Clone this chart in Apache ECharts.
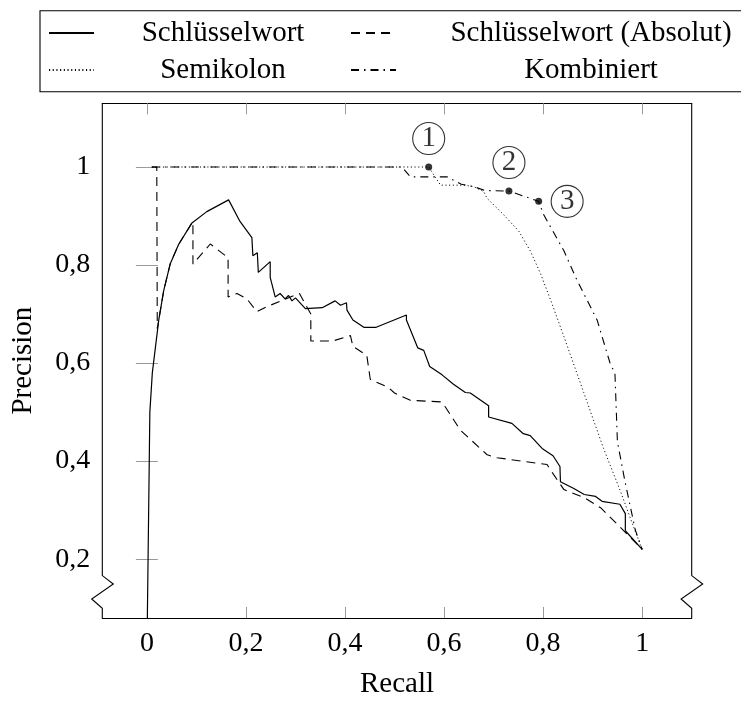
<!DOCTYPE html>
<html><head><meta charset="utf-8">
<script src="https://cdn.jsdelivr.net/npm/echarts@6/dist/echarts.min.js"></script>
<style>html,body{margin:0;padding:0;background:#fff}#c{width:741px;height:704px}</style>
</head><body><div id="c"></div>
<script>
// ---- data ----
const xTicks = [0, 0.2, 0.4, 0.6, 0.8, 1];
const yTicks = [0.2, 0.4, 0.6, 0.8, 1];

const kwRecall = [0,0.006,0.011,0.017,0.024,0.034,0.047,0.064,0.091,0.121,0.165,0.188,0.212,0.214,0.223,0.225,0.249,0.249,0.259,0.269,0.279,0.286,0.293,0.300,0.320,0.354,0.380,0.391,0.403,0.404,0.416,0.438,0.463,0.524,0.524,0.547,0.559,0.571,0.596,0.619,0.643,0.653,0.690,0.690,0.737,0.760,0.774,0.798,0.820,0.834,0.835,0.862,0.883,0.906,0.919,0.955,0.966,0.966,1];
const kwPrecision = [0,0.5,0.58,0.63,0.688,0.748,0.802,0.842,0.886,0.909,0.933,0.889,0.856,0.819,0.825,0.785,0.807,0.775,0.735,0.742,0.731,0.738,0.727,0.733,0.711,0.713,0.727,0.718,0.723,0.708,0.688,0.673,0.673,0.698,0.688,0.631,0.626,0.593,0.576,0.557,0.540,0.539,0.513,0.490,0.477,0.456,0.452,0.426,0.411,0.389,0.358,0.344,0.332,0.328,0.318,0.312,0.293,0.258,0.22];

const absRecall = [0.01,0.02,0.021,0.024,0.034,0.047,0.064,0.093,0.093,0.128,0.164,0.164,0.182,0.202,0.222,0.242,0.273,0.308,0.331,0.331,0.375,0.411,0.416,0.444,0.451,0.488,0.500,0.532,0.593,0.603,0.633,0.687,0.707,0.808,0.821,0.842,0.882,0.916,0.949,1];
const absPrecision = [1,1,0.67,0.688,0.748,0.802,0.842,0.889,0.802,0.843,0.815,0.735,0.742,0.731,0.705,0.715,0.728,0.742,0.700,0.645,0.645,0.656,0.634,0.616,0.567,0.550,0.539,0.524,0.521,0.510,0.463,0.413,0.407,0.393,0.373,0.342,0.326,0.305,0.272,0.22];

const semiRecall = [0.01,0.569,0.593,0.64,0.66,0.68,0.687,0.72,0.751,0.774,0.795,0.818,0.842,0.882,0.922,0.956,0.983,1];
const semiPrecision = [1,1,0.963,0.963,0.96,0.95,0.936,0.903,0.869,0.829,0.782,0.721,0.654,0.540,0.426,0.339,0.265,0.22];

const kombRecall = [0.01,0.515,0.532,0.606,0.635,0.66,0.683,0.731,0.791,0.801,0.842,0.868,0.909,0.936,0.945,0.95,0.965,0.986,1];
const kombPrecision = [1,1,0.98,0.98,0.965,0.96,0.952,0.951,0.93,0.903,0.829,0.77,0.688,0.597,0.58,0.44,0.36,0.26,0.22];

const markRecall = [0.569, 0.731, 0.791];
const markPrecision = [1, 0.951, 0.93];
const markLabels = ['1', '2', '3'];

const seriesNames = ['Schlüsselwort', 'Schlüsselwort (Absolut)', 'Semikolon', 'Kombiniert'];

// ---- styles ----
const FONT = "'Liberation Serif', 'Times New Roman', serif";
const markLabelPlacement = ['top', 'top', 'right'];
const zip = (a, b) => a.map((v, i) => [v, b[i]]);
const fmt = v => String(v).replace('.', ',');

const chart = echarts.init(document.getElementById('c'), null, {renderer: 'canvas'});

function lineSeries(name, xs, ys, dash, width) {
  return {
    type: 'line', name: name, data: zip(xs, ys), symbol: 'none', showSymbol: false,
    lineStyle: {color: '#000', width: width || 1.1, type: dash},
    itemStyle: {color: '#000'}, clip: true, z: 3, silent: true
  };
}

// legend text placement
const mctx = document.createElement('canvas').getContext('2d');
mctx.font = "29px 'Liberation Serif'";
function legendComp(name, iconLeft, textCenter, rowTop) {
  const w = mctx.measureText(name).width;
  const itemWidth = 45;
  const pad = Math.max(0, textCenter - w / 2 - (iconLeft + itemWidth + 5));
  return {
    data: [name], left: iconLeft, top: rowTop, padding: 0, orient: 'horizontal',
    itemWidth: itemWidth, itemHeight: 14, selectedMode: false,
    itemStyle: {opacity: 0},
    textStyle: {fontFamily: FONT, fontSize: 29, color: '#000', lineHeight: 32, padding: [0, 0, 0, pad]}
  };
}

const axisCommon = {
  type: 'value', splitLine: {show: false},
  axisTick: {inside: true, length: 11, lineStyle: {color: '#999', width: 1}},
};

chart.setOption({
  animation: false,
  backgroundColor: '#fff',
  grid: {left: 102.3, top: 103.3, width: 589.4, height: 522.4, containLabel: false},
  legend: [
    legendComp(seriesNames[0], 48, 222, 17),
    legendComp(seriesNames[1], 350, 590, 17),
    legendComp(seriesNames[2], 48, 222, 54),
    legendComp(seriesNames[3], 350, 590, 54)
  ],
  xAxis: [
    Object.assign({}, axisCommon, {
      min: -0.09, max: 1.1, position: 'bottom',
      axisLine: {show: true, lineStyle: {color: '#000', width: 1.1}},
      axisTick: {inside: true, length: 11, customValues: xTicks, lineStyle: {color: '#999'}},
      axisLabel: {customValues: xTicks, formatter: fmt, fontSize: 28, fontFamily: FONT, color: '#000', margin: 12},
      name: 'Recall', nameLocation: 'middle', nameGap: 52,
      nameTextStyle: {fontSize: 29, fontFamily: FONT, color: '#000'}
    }),
    Object.assign({}, axisCommon, {
      min: -0.09, max: 1.1, position: 'top',
      axisLine: {show: true, lineStyle: {color: '#000', width: 1.1}},
      axisTick: {inside: true, length: 11, customValues: xTicks, lineStyle: {color: '#999'}},
      axisLabel: {show: false}
    })
  ],
  yAxis: [
    Object.assign({}, axisCommon, {
      min: 0.08, max: 1.13, position: 'left',
      axisLine: {show: false},
      axisTick: {show: true, inside: true, length: 11, customValues: yTicks, lineStyle: {color: '#999'}},
      axisLabel: {customValues: yTicks, formatter: fmt, fontSize: 28, fontFamily: FONT, color: '#000', margin: 12},
      name: 'Precision', nameLocation: 'middle', nameGap: 64,
      nameTextStyle: {fontSize: 29, fontFamily: FONT, color: '#000'}
    }),
    Object.assign({}, axisCommon, {
      min: 0.08, max: 1.13, position: 'right',
      axisLine: {show: false},
      axisTick: {show: true, inside: true, length: 11, customValues: yTicks, lineStyle: {color: '#999'}},
      axisLabel: {show: false}
    })
  ],
  series: [
    lineSeries(seriesNames[0], kwRecall, kwPrecision, 'solid', 1.2),
    lineSeries(seriesNames[1], absRecall, absPrecision, [9, 6], 1.1),
    lineSeries(seriesNames[2], semiRecall, semiPrecision, [1.1, 2.6], 1.0),
    lineSeries(seriesNames[3], kombRecall, kombPrecision, [8, 5, 1.5, 5], 1.1),
    {
      type: 'scatter', name: 'marks', symbol: 'circle', symbolSize: 7, silent: true, z: 5,
      itemStyle: {color: '#000'},
      data: markRecall.map((x, i) => ({
        value: [x, markPrecision[i]],
        label: {position: markLabelPlacement[i]}
      })),
      label: {
        show: true, distance: 9,
        formatter: p => '{c|' + markLabels[p.dataIndex] + '}',
        rich: {c: {fontFamily: FONT, fontSize: 29, color: '#000', width: 32, height: 32, lineHeight: 32,
                   align: 'center', verticalAlign: 'middle', borderColor: '#000', borderWidth: 1.1, borderRadius: 17}}
      }
    }
  ]
});

// frame with axis breaks and legend box
const xmin = -0.09, xmax = 1.1, ymin = 0.08, ymax = 1.13;
const tl = chart.convertToPixel({gridIndex: 0}, [xmin, ymax]);
const br = chart.convertToPixel({gridIndex: 0}, [xmax, ymin]);
function breakSide(xp, dir) {
  const b = br[1];
  return [[xp, tl[1]], [xp, b - 42.4], [xp + dir * 11, b - 34], [xp - dir * 10.6, b - 19], [xp, b - 9.7], [xp, b]];
}
chart.setOption({
  graphic: [
    {type: 'polyline', shape: {points: breakSide(tl[0], 1)}, style: {stroke: '#000', lineWidth: 1.1, fill: null}, silent: true, z: 10},
    {type: 'polyline', shape: {points: breakSide(br[0], 1)}, style: {stroke: '#000', lineWidth: 1.1, fill: null}, silent: true, z: 10},
    {type: 'rect', shape: {x: 40, y: 10.7, width: 800, height: 81}, style: {stroke: '#000', lineWidth: 1.1, fill: null}, silent: true, z: 10}
  ]
});
</script>
</body></html>
